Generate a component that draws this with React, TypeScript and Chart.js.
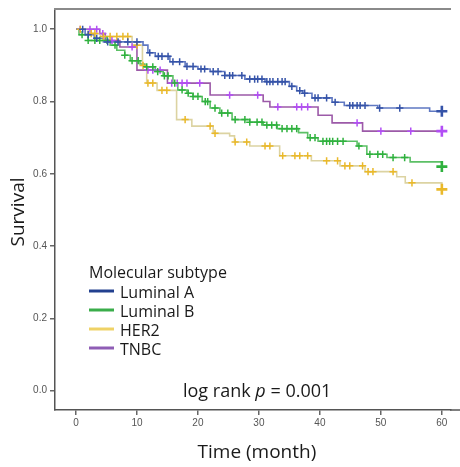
import React, { useEffect, useRef } from 'react';
import { Chart, registerables } from 'chart.js';

Chart.register(...registerables);

const TIME_TICKS = [0, 10, 20, 30, 40, 50, 60];
const SURV_TICKS = [0, 0.2, 0.4, 0.6, 0.8, 1.0];
const GROUPS = ['Luminal A', 'Luminal B', 'HER2', 'TNBC'];
const LEGEND_TITLE = 'Molecular subtype';
const X_TITLE = 'Time (month)';
const Y_TITLE = 'Survival';
const P_TEXT = ['log rank ', 'p', ' = 0.001'];

const LUMA_T = [0, 1.5, 3, 4.5, 11, 11.8, 13, 15.4, 17.9, 20, 22, 24.4, 27.7, 31, 35, 36.2, 37.2, 38.7, 42, 44, 49.5, 58, 60];
const LUMA_S = [1.0, 0.985, 0.975, 0.965, 0.956, 0.935, 0.925, 0.91, 0.897, 0.89, 0.883, 0.872, 0.862, 0.855, 0.842, 0.83, 0.823, 0.81, 0.798, 0.789, 0.782, 0.773, 0.773];
const LUMA_CENS = [1.1, 2, 3.4, 5.2, 6.9, 8.5, 10, 12.1, 13.5, 14.1, 15.1, 15.9, 17, 18.2, 19.2, 20.5, 21.1, 22.5, 23.3, 24.4, 25.2, 25.7, 27.2, 28.5, 29.3, 29.8, 30.5, 31.3, 31.8, 32.3, 33.1, 33.8, 34.3, 35.4, 36.7, 37.5, 39.2, 39.7, 41.1, 42.5, 44.9, 45.4, 46.1, 46.6, 47.4, 49.8, 53.1, 60];

const LUMB_T = [0, 0.5, 2, 5.6, 6.7, 8, 8.9, 10.5, 11.3, 13, 14.3, 15.9, 16.7, 18.2, 19.2, 20.7, 22, 23.6, 25.6, 28.5, 30.7, 33, 36.5, 38, 39.7, 46.1, 47.7, 51, 54.8, 60];
const LUMB_S = [1.0, 0.985, 0.969, 0.956, 0.942, 0.928, 0.913, 0.904, 0.896, 0.883, 0.871, 0.851, 0.832, 0.823, 0.814, 0.8, 0.782, 0.768, 0.75, 0.743, 0.735, 0.725, 0.714, 0.7, 0.69, 0.677, 0.654, 0.645, 0.633, 0.62];
const LUMB_CENS = [1, 2, 3.1, 3.9, 5.1, 6.4, 8, 9.2, 10.2, 11.6, 12.6, 13.4, 14.5, 15.1, 16.2, 17.4, 18.4, 19.2, 20, 21.2, 21.6, 22.8, 23.9, 24.9, 26.1, 27.7, 28.5, 29.7, 30.5, 31.3, 32.1, 32.9, 33.8, 34.6, 35.4, 36.2, 38.4, 39.2, 40.5, 41.1, 41.6, 42.1, 42.9, 43.8, 46.4, 48.2, 49.5, 50.3, 52, 53.9, 60];

const HER2_T = [0, 2, 4, 9.2, 10.9, 11.6, 13.3, 16.5, 19, 22.5, 25.2, 26, 28.5, 33.4, 38.6, 43.3, 47.4, 52.6, 54, 60];
const HER2_S = [1.0, 0.988, 0.98, 0.956, 0.9, 0.851, 0.831, 0.75, 0.732, 0.712, 0.705, 0.688, 0.677, 0.65, 0.636, 0.622, 0.606, 0.592, 0.575, 0.557];
const HER2_CENS = [0.7, 2.5, 3.1, 4.5, 5.6, 6.7, 7.7, 8.5, 10, 11, 11.8, 12.6, 14.1, 14.9, 17.9, 22, 22.8, 26.1, 28, 31, 31.8, 33.9, 35.9, 36.7, 38, 41.1, 42.9, 44.1, 44.9, 47, 47.9, 48.7, 52, 55.1, 60];

const TNBC_T = [0, 3.9, 4.8, 7.2, 10, 15, 22, 30.7, 31.8, 39.7, 42, 47, 60];
const TNBC_S = [1.0, 0.988, 0.969, 0.951, 0.887, 0.851, 0.818, 0.8, 0.785, 0.762, 0.741, 0.718, 0.718];
const TNBC_CENS = [0.7, 2.3, 3.4, 4.4, 5.9, 9.2, 11.8, 12.6, 13.8, 15.7, 16.6, 17.4, 18.2, 20.3, 25.2, 29.8, 33.1, 36.2, 37, 38, 46.1, 50, 54.9, 60];

const LINE_COLORS = ['#5f78c2', '#5cc066', '#dcd3a2', '#9c5aa8'];
const MARK_COLORS = ['#3553a8', '#2fb13e', '#eab92a', '#b24ef5'];
const LEGEND_COLORS = ['#22408f', '#3aad4a', '#efd266', '#8f5db5'];

const FONT = '"Open Sans", "Noto Sans", sans-serif';

function survAt(T: number[], S: number[], t: number) {
  let v = S[0];
  for (let i = 0; i < T.length; i++) if (T[i] <= t + 1e-9) v = S[i];
  return v;
}

const decorPlugin = {
  id: 'decor',
  afterDraw(chart: any) {
    const { ctx, chartArea } = chart;
    const xs = chart.scales.x;
    const ys = chart.scales.y;
    ctx.save();
    // top frame line and extended baseline
    ctx.strokeStyle = '#8a8a8a';
    ctx.lineWidth = 2;
    ctx.beginPath();
    ctx.moveTo(chartArea.left - 1, chartArea.top);
    ctx.lineTo(chartArea.right, chartArea.top);
    ctx.stroke();
    ctx.strokeStyle = '#555';
    ctx.lineWidth = 1.5;
    ctx.beginPath();
    ctx.moveTo(chartArea.right - 1, chartArea.bottom);
    ctx.lineTo(chart.width, chartArea.bottom);
    ctx.stroke();

    ctx.fillStyle = '#1a1a1a';
    // axis titles
    ctx.font = `19px ${FONT}`;
    ctx.textAlign = 'center';
    ctx.textBaseline = 'alphabetic';
    ctx.fillText(X_TITLE, (xs.getPixelForValue(0) + xs.getPixelForValue(60)) / 2 - 2, 458);
    ctx.save();
    ctx.translate(24, 212);
    ctx.rotate(-Math.PI / 2);
    ctx.fillText(Y_TITLE, 0, 0);
    ctx.restore();

    // legend
    ctx.textAlign = 'left';
    ctx.font = `16px ${FONT}`;
    const lx = 89;
    ctx.fillText(LEGEND_TITLE, lx, 278);
    GROUPS.forEach((g, i) => {
      const yLine = 291 + i * 19;
      ctx.strokeStyle = LEGEND_COLORS[i];
      ctx.lineWidth = 3;
      ctx.beginPath();
      ctx.moveTo(lx, yLine);
      ctx.lineTo(lx + 25, yLine);
      ctx.stroke();
      ctx.fillText(g, lx + 31, yLine + 7);
    });

    // log rank p annotation
    ctx.font = `18px ${FONT}`;
    let px = 183;
    const py = 397;
    P_TEXT.forEach((s, i) => {
      ctx.font = i === 1 ? `italic 18px ${FONT}` : `18px ${FONT}`;
      ctx.fillText(s, px, py);
      px += ctx.measureText(s).width;
    });
    ctx.restore();
  },
};

export default function App() {
  const ref = useRef<HTMLCanvasElement | null>(null);
  useEffect(() => {
    document.body.style.margin = '0';
    const curves = [
      [LUMA_T, LUMA_S, LUMA_CENS],
      [LUMB_T, LUMB_S, LUMB_CENS],
      [HER2_T, HER2_S, HER2_CENS],
      [TNBC_T, TNBC_S, TNBC_CENS],
    ];
    const datasets: any[] = [];
    curves.forEach(([T, S, C], i) => {
      datasets.push({
        type: 'line',
        label: GROUPS[i],
        data: T.map((t, k) => ({ x: t, y: S[k] })),
        borderColor: LINE_COLORS[i],
        borderWidth: 1.6,
        pointRadius: 0,
        stepped: true,
        fill: false,
        order: 10 + i,
      });
      datasets.push({
        type: 'scatter',
        label: GROUPS[i] + ' censored',
        data: C.map((t) => ({ x: t, y: survAt(T, S, t) })),
        pointStyle: 'cross',
        pointRadius: (c: any) => (c.raw && c.raw.x >= 60 ? 5.5 : 3.6),
        borderWidth: (c: any) => (c.raw && c.raw.x >= 60 ? 2.6 : 1.5),
        borderColor: MARK_COLORS[i],
        backgroundColor: MARK_COLORS[i],
        showLine: false,
        order: i,
      });
    });
    const chart = new Chart(ref.current as HTMLCanvasElement, {
      type: 'line',
      data: { datasets },
      plugins: [decorPlugin],
      options: {
        animation: false,
        responsive: false,
        maintainAspectRatio: false,
        layout: { padding: { top: 5, right: 9, left: 0, bottom: 0 } },
        plugins: { legend: { display: false }, tooltip: { enabled: false } },
        scales: {
          x: {
            type: 'linear',
            min: -3.44,
            max: 61.5,
            afterFit: (s: any) => { s.height = 57; },
            afterBuildTicks: (s: any) => { s.ticks = TIME_TICKS.map((v) => ({ value: v })); },
            grid: { display: true, drawOnChartArea: false, drawTicks: true, tickLength: 5, color: '#666', lineWidth: 1.5 },
            border: { display: true, color: '#555', width: 1.5 },
            ticks: { color: '#555', font: { family: '"Liberation Sans", Arial, sans-serif', size: 10 }, padding: 2, maxRotation: 0, callback: (v: any) => String(v) },
          },
          y: {
            type: 'linear',
            min: -0.0534,
            max: 1.056,
            afterFit: (s: any) => { s.width = 55; },
            afterBuildTicks: (s: any) => { s.ticks = SURV_TICKS.map((v) => ({ value: v })); },
            grid: { display: true, drawOnChartArea: false, drawTicks: true, tickLength: 5, color: '#666', lineWidth: 1.5 },
            border: { display: true, color: '#555', width: 1.5 },
            ticks: { color: '#555', font: { family: '"Liberation Sans", Arial, sans-serif', size: 10 }, padding: 3, callback: (v: any) => Number(v).toFixed(1) },
          },
        },
      },
    });
    return () => chart.destroy();
  }, []);
  return (
    <div style={{ position: 'fixed', left: 0, top: 0, width: 460, height: 467, background: '#fff' }}>
      <canvas ref={ref} width={460} height={467} style={{ width: 460, height: 467, display: 'block' }} />
    </div>
  );
}
